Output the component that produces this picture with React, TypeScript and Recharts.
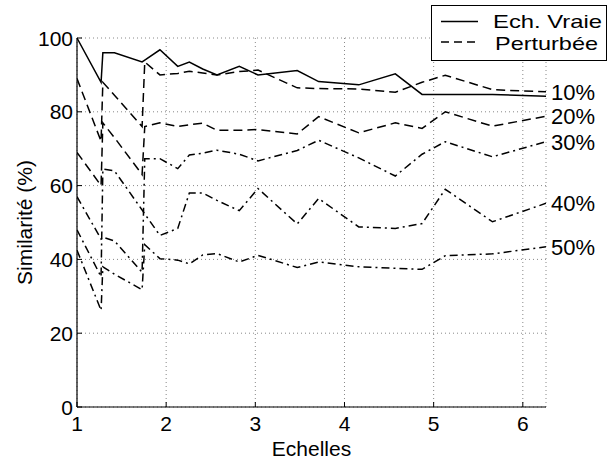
import React from 'react';
import { LineChart, Line, XAxis, YAxis, CartesianGrid, Legend, LabelList } from 'recharts';

const FONT = "'Liberation Sans', Arial, Helvetica, sans-serif";

// Echelles (x positions of samples)
const scales = [1, 1.27, 1.29, 1.42, 1.73, 1.76, 1.93, 2.13, 2.26, 2.41, 2.57, 2.82, 3.03, 3.47, 3.71, 4.16, 4.57, 4.87, 5.13, 5.66, 6.26];
// Ech. Vraie
const vraie = [100, 88, 96, 96, 93.5, 94, 96.8, 92.3, 93.5, 91.6, 90, 92.3, 90, 91.2, 88.2, 87.3, 90.3, 84.7, 84.7, 84.7, 84.2];
// Perturbée 10%..50%
const p10 = [89, 72, 88, 84.5, 76, 93.5, 90, 90.4, 91, 90.5, 90, 90.9, 91.3, 86.5, 86.3, 86.2, 85.3, 88, 89.9, 86, 85.4];
const p20 = [69, 60, 77, 73, 63, 76, 77, 76, 76.5, 76.9, 75, 75, 75.2, 74, 78.7, 74.3, 77, 75.5, 80, 76.1, 78.8];
const p30 = [57, 45.5, 46, 45, 36.5, 67.3, 67.3, 64.6, 68.3, 68.8, 69.6, 68.5, 66.7, 69.5, 72.3, 67.5, 62.6, 68.5, 71.9, 67.8, 71.9];
const p40 = [48, 35.3, 64.5, 64, 53.4, 52.3, 46.5, 48.4, 58, 58, 56, 53.2, 59.2, 49.6, 56.5, 48.8, 48.4, 49.7, 59, 50.2, 55.2];
const p50 = [42.5, 26.2, 38, 36, 31.8, 44, 40.2, 39.8, 38.8, 41.2, 41.6, 39.3, 41.1, 37.8, 39.3, 38, 37.6, 37.3, 41, 41.5, 43.4];

const levelLabels = ['10%', '20%', '30%', '40%', '50%'];
const legendLabels = ['Ech. Vraie', 'Perturbée'];
const xTicks = [1, 2, 3, 4, 5, 6];
const yTicks = [0, 20, 40, 60, 80, 100];

const data = scales.map((x, i) => ({
  x,
  vraie: vraie[i],
  p10: p10[i],
  p20: p20[i],
  p30: p30[i],
  p40: p40[i],
  p50: p50[i],
}));

const perturbed = [
  { key: 'p10', dash: '9 5', label: levelLabels[0] },
  { key: 'p20', dash: '9 5', label: levelLabels[1] },
  { key: 'p30', dash: '8 4 2 4', label: levelLabels[2] },
  { key: 'p40', dash: '8 4 2 4', label: levelLabels[3] },
  { key: 'p50', dash: '8 4 2 4', label: levelLabels[4] },
];

const last = scales.length - 1;

const XTick = (props: any) => {
  const { x, y, payload } = props;
  return (
    <g>
      <line x1={x} x2={x} y1={y} y2={y - 5} stroke="#000" strokeWidth={1} />
      <text x={x} y={y + 24} textAnchor="middle" fontSize={21} fontFamily={FONT} fill="#000">
        {payload.value}
      </text>
    </g>
  );
};

const YTick = (props: any) => {
  const { x, y, payload } = props;
  return (
    <g>
      <line x1={x} x2={x + 5} y1={y} y2={y} stroke="#000" strokeWidth={1} />
      <text x={x - 4} y={y + 7.5} textAnchor="end" fontSize={21} fontFamily={FONT} fill="#000">
        {payload.value}
      </text>
    </g>
  );
};

const XLabel = (props: any) => {
  const vb = props.viewBox || {};
  return (
    <text x={vb.x + vb.width / 2} y={456} textAnchor="middle" fontSize={21} fontFamily={FONT} fill="#000">
      Echelles
    </text>
  );
};

const YLabel = (props: any) => {
  const vb = props.viewBox || {};
  const cx = 32;
  const cy = vb.y + vb.height / 2;
  return (
    <text
      x={cx}
      y={cy}
      transform={`rotate(-90 ${cx} ${cy})`}
      textAnchor="middle"
      fontSize={21}
      fontFamily={FONT}
      fill="#000"
    >
      Similarité (%)
    </text>
  );
};

const LegendBox = () => (
  <svg width={176} height={56} style={{ display: 'block' }}>
    <rect x={0.5} y={0.5} width={175} height={55} fill="#fff" stroke="#000" strokeWidth={1} />
    <line x1={10} x2={47} y1={16.5} y2={16.5} stroke="#000" strokeWidth={1.3} />
    <text x={62} y={23} fontSize={19} fontFamily={FONT} fill="#000" textLength={109} lengthAdjust="spacingAndGlyphs">
      {legendLabels[0]}
    </text>
    <line x1={10} x2={47} y1={37} y2={37} stroke="#000" strokeWidth={1.3} strokeDasharray="8 5" />
    <text x={64} y={44.5} fontSize={19} fontFamily={FONT} fill="#000" textLength={103} lengthAdjust="spacingAndGlyphs">
      {legendLabels[1]}
    </text>
  </svg>
);

const makeEndLabel = (text: string) => (props: any) => {
  const { x, y, index } = props;
  if (index !== last) return null;
  return (
    <text x={x + 5} y={y + 8} fontSize={22} fontFamily={FONT} fill="#000">
      {text}
    </text>
  );
};

export default function App() {
  return (
    <div style={{ position: 'absolute', left: 0, top: 0, background: '#fff' }}>
      <LineChart
        width={611}
        height={461}
        data={data}
        margin={{ top: 38, right: 65, left: 0, bottom: 0 }}
      >
        <CartesianGrid stroke="#888" strokeDasharray="1 3" />
        <XAxis
          dataKey="x"
          type="number"
          domain={[1, 6.26]}
          ticks={xTicks}
          allowDataOverflow
          height={54}
          tickSize={0}
          tickMargin={0}
          tick={<XTick />}
          axisLine={{ stroke: '#000', strokeWidth: 1.2 }}
          tickLine={false}
          label={<XLabel />}
        />
        <YAxis
          type="number"
          domain={[0, 100]}
          ticks={yTicks}
          width={77}
          tickSize={0}
          tickMargin={0}
          tick={<YTick />}
          axisLine={{ stroke: '#000', strokeWidth: 1.2 }}
          tickLine={false}
          label={<YLabel />}
        />
        <Legend
          layout="horizontal"
          verticalAlign="middle"
          align="center"
          content={<LegendBox />}
          wrapperStyle={{ left: 431, top: 5, width: 176, height: 56 }}
        />
        <Line
          type="linear"
          dataKey="vraie"
          stroke="#000"
          strokeWidth={1.5}
          dot={false}
          isAnimationActive={false}
        />
        {perturbed.map((s) => (
          <Line
            key={s.key}
            type="linear"
            dataKey={s.key}
            stroke="#000"
            strokeWidth={1.5}
            strokeDasharray={s.dash}
            dot={false}
            isAnimationActive={false}
          >
            <LabelList dataKey={s.key} content={makeEndLabel(s.label)} />
          </Line>
        ))}
      </LineChart>
    </div>
  );
}
